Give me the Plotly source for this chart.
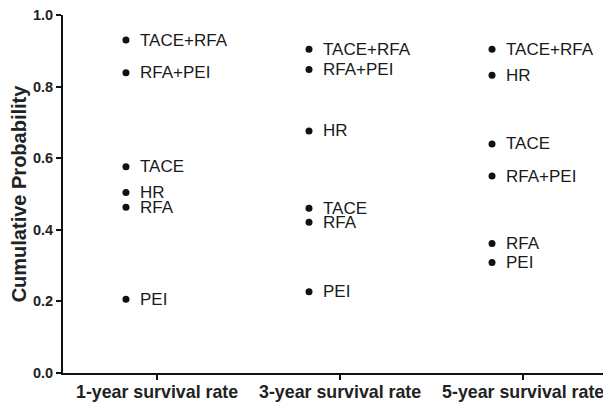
import plotly.graph_objects as go

# ---- data ----
periods = ["1-year survival rate", "3-year survival rate", "5-year survival rate"]
treatments = ["TACE+RFA", "RFA+PEI", "TACE", "HR", "RFA", "PEI"]
rate_1yr = [0.930, 0.839, 0.576, 0.504, 0.463, 0.206]
rate_3yr = [0.904, 0.848, 0.460, 0.676, 0.421, 0.227]
rate_5yr = [0.904, 0.550, 0.640, 0.832, 0.362, 0.309]
y_ticks = [0.0, 0.2, 0.4, 0.6, 0.8, 1.0]

series = [rate_1yr, rate_3yr, rate_5yr]
DOT_OFFSET = -0.17  # dots sit slightly left of each category tick

fig = go.Figure()
xs, ys, labels = [], [], []
for i, vals in enumerate(series):
    for t, v in zip(treatments, vals):
        xs.append(i + DOT_OFFSET)
        ys.append(v)
        labels.append(t)

fig.add_trace(go.Scatter(
    x=xs, y=ys, mode="markers",
    marker=dict(color="#111111", size=7),
    hoverinfo="skip", showlegend=False,
))

for x, y, t in zip(xs, ys, labels):
    fig.add_annotation(
        x=x, y=y, text=t, showarrow=False,
        xanchor="left", yanchor="middle", xshift=12,
        font=dict(family="Liberation Sans, Arial", size=17, color="#1a1a1a"),
    )

# the page body adds an 8px margin; size the figure to the visible window
fig.update_layout(
    width=603, height=395,
    margin=dict(l=55, r=0, t=7, b=30),
    paper_bgcolor="white", plot_bgcolor="white",
    xaxis=dict(
        range=[-0.514, 2.48],
        tickvals=list(range(len(periods))), ticktext=periods,
        showgrid=False, zeroline=False,
        showline=True, linecolor="#111111", linewidth=2,
        ticks="outside", ticklen=5, tickwidth=2, tickcolor="#111111",
        ticklabeloverflow="allow", automargin=False, ticklabelstandoff=-3,
        tickfont=dict(family="Liberation Sans, Arial", size=17.8, color="#222222", weight="bold"),
    ),
    yaxis=dict(
        range=[0, 1],
        tickvals=y_ticks, ticktext=[f"{v:.1f}" for v in y_ticks],
        showgrid=False, zeroline=False,
        showline=True, linecolor="#111111", linewidth=2,
        ticks="outside", ticklen=5, tickwidth=2, tickcolor="#111111",
        ticklabeloverflow="allow", automargin="left",
        tickfont=dict(family="Liberation Sans, Arial", size=14.5, color="#222222", weight="bold"),
        title=dict(text="Cumulative Probability", standoff=6,
                   font=dict(family="Liberation Sans, Arial", size=20, color="#222222", weight="bold")),
    ),
)

fig.write_html("out.html")
